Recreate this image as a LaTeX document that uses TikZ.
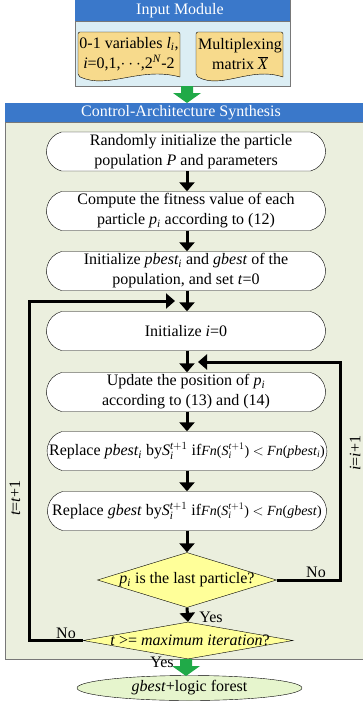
\documentclass[tikz,border=0pt]{standalone}
\usepackage{fontspec}
\setmainfont{Liberation Serif}
\usetikzlibrary{arrows.meta,shapes.geometric,shapes.misc,calc}

\definecolor{hdrblue}{RGB}{58,120,202}
\definecolor{inbody}{RGB}{220,238,244}
\definecolor{docfill}{RGB}{247,218,140}
\definecolor{ctlbody}{RGB}{235,239,222}
\definecolor{decfill}{RGB}{255,255,153}
\definecolor{outfill}{RGB}{230,245,205}
\definecolor{blockgreen}{RGB}{32,170,72}
\definecolor{frame}{RGB}{120,120,120}

\newcommand{\Sit}{$\mathit{S}_{\mathit{i}}^{\mathit{t}+1}$}
\newcommand{\fnsize}{\fontsize{14}{16}\selectfont}

\tikzset{
  basefont/.style={font=\fontsize{16}{20}\selectfont},
  procbox/.style={basefont, draw, thin, fill=white, rounded rectangle,
    rounded rectangle arc length=150,
    minimum width=279pt, minimum height=39pt, inner sep=0pt, align=center},
  decbox/.style={draw, thin, fill=decfill, diamond, inner sep=0pt},
  flow/.style={line width=3pt, -{Triangle[width=15pt,length=9pt]}},
  loopline/.style={line width=3pt},
  lbl/.style={basefont, inner sep=0pt},
  hdrtext/.style={basefont, text=white, inner sep=0pt},
  docshape/.style={draw, thin, fill=docfill, rounded corners=2pt},
  blockdown/.pic={
    \fill[blockgreen] (-6,0) -- (6,0) -- (6,7) -- (14,7) -- (0,17) -- (-14,7) -- (-6,7) -- cycle;
  }
}

\begin{document}
\begin{tikzpicture}[x=1pt,y=-1pt]
\useasboundingbox (0,0) rectangle (363,705);

% ---------- input module ----------
\node[draw=frame, fill=inbody, minimum width=215pt, minimum height=86pt,
      inner sep=0pt, anchor=north west] (inmod) at (75,0) {};
\fill[hdrblue] (75,0) rectangle (290,21);
\draw[frame] (75,21) -- (290,21);
\node[hdrtext] (inhdr) at (180,10.5) {Input Module};

% document shapes
\draw[docshape] (180,77) -- (180,32) -- (78,32) -- (78,76)
  .. controls (108,90) and (140,66) .. (180,77);
\node[basefont, align=center, inner sep=0pt] (docA) at (129,54)
  {0-1 variables \textit{l\textsubscript{i}},\\\textit{i}=0,1,$\cdots$,2\textsuperscript{\textit{N}}-2};
\draw[docshape] (283,77) -- (283,32) -- (196,32) -- (196,76)
  .. controls (222,90) and (250,66) .. (283,77);
\node[basefont, align=center, inner sep=0pt] (docB) at (240,54)
  {Multiplexing\\matrix $\overline{\mathit{X}}$};

% ---------- control-architecture synthesis ----------
\node[draw=frame, fill=ctlbody, minimum width=370pt, minimum height=556pt,
      inner sep=0pt, anchor=north west] (ctl) at (5,103) {};
\fill[hdrblue] (5,103) rectangle (375,122);
\draw[frame] (5,122) -- (375,122);
\node[hdrtext] (ctlhdr) at (181,112.5) {Control-Architecture Synthesis};

\pic at (187,86) {blockdown};

% process steps
\node[procbox] (n1) at (186,151.5) {\hspace*{10pt}Randomly initialize the particle\\population \textit{P} and parameters};
\node[procbox] (n2) at (186,211) {Compute the fitness value of each\\particle \textit{p\textsubscript{i}} according to (12)};
\node[procbox] (n3) at (186,271) {Initialize \textit{pbest\textsubscript{i}} and \textit{gbest} of the\\population, and set \textit{t}=0};
\node[procbox] (n4) at (186,331) {Initialize \textit{i}=0};
\node[procbox] (n5) at (186,392) {Update the position of \textit{p\textsubscript{i}}\\according to (13) and (14)};
\node[procbox] (n6) at (187,451) {Replace \textit{pbest\textsubscript{i}} by\Sit{} if{\fnsize\textit{Fn}(\Sit) $<$ \textit{Fn}(\textit{pbest\textsubscript{i}})}};
\node[procbox] (n7) at (187,511) {Replace \textit{gbest} by\Sit{} if{\fnsize\textit{Fn}(\Sit) $<$ \textit{Fn}(\textit{gbest})}};

% decisions
\node[decbox, minimum width=179pt, minimum height=55pt] (d1) at (187,580) {};
\node[lbl] (d1t) at (d1.center) {\textit{p\textsubscript{i}} is the last particle?};
\node[decbox, minimum width=210pt, minimum height=37pt] (d2) at (188,640.5) {};
\node[lbl] (d2t) at ($(d2.center)+(2,0)$) {\textit{t} >= \textit{maximum iteration}?};

% result
\node[ellipse, draw, thin, fill=outfill, minimum width=225pt, minimum height=25pt,
      inner sep=0pt, basefont] (res) at (189.5,688) {\textit{gbest}+logic forest};

% main flow
\draw[flow] (n1.south -| 187,0) -- (n2.north -| 187,0);
\draw[flow] (n2.south -| 187,0) -- (n3.north -| 187,0);
\draw[flow] (n3.south -| 187,0) -- (n4.north -| 187,0);
\draw[flow] (n4.south -| 187,0) -- (n5.north -| 187,0);
\draw[flow] (n5.south -| 187,0) -- (n6.north -| 187,0);
\draw[flow] (n6.south -| 187,0) -- (n7.north -| 187,0);
\draw[flow] (n7.south -| 187,0) -- (d1.north);
\draw[flow] (d1.south) -- (d2.north);
\pic at (186,659) {blockdown};

% loops
\coordinate (tjoin) at (175,301);
\coordinate (ijoin) at (198,362);
\draw[loopline, -{Triangle[width=15pt,length=9pt]}]
  (d2.west) -- (29,640.5) -- (29,301) -- (tjoin);
\draw[loopline, -{Triangle[width=15pt,length=9pt]}]
  (d1.east) -- (340,580) -- (340,362) -- (ijoin);

% labels
\node[lbl, rotate=90] (tinc) at (15,498) {\textit{t}=\textit{t}+1};
\node[lbl, rotate=90] (iinc) at (355,453) {\textit{i}=\textit{i}+1};
\node[lbl] (no1) at (316,572) {No};
\node[lbl] (no2) at (66,633) {No};
\node[lbl] (yes1) at (211,617) {Yes};
\node[lbl] (yes2) at (162,662) {Yes};
\end{tikzpicture}
\end{document}
